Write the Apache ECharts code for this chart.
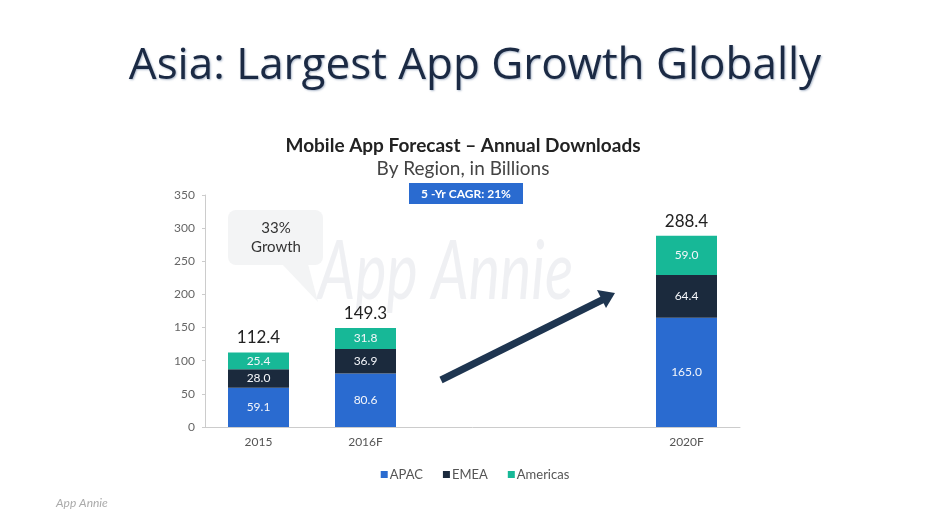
<!DOCTYPE html>
<html><head><meta charset="utf-8">
<script src="https://cdn.jsdelivr.net/npm/echarts@6/dist/echarts.min.js"></script>
<style>html,body{margin:0;padding:0;background:#fff}#c{width:950px;height:530px}</style>
</head><body><div id="c"></div>
<script>
const categories = ['2015', '2016F', '', '', '2020F'];
const apac = [59.1, 80.6, null, null, 165.0];
const emea = [28.0, 36.9, null, null, 64.4];
const americas = [25.4, 31.8, null, null, 59.0];
const totals = [112.4, 149.3, null, null, 288.4];
const yTicks = {min: 0, max: 350, interval: 50};

const chart = echarts.init(document.getElementById('c'));
const inside = {show: true, position: 'inside', color: '#f4f6fa', fontSize: 12, fontFamily: 'Lato', formatter: p => p.value == null ? '' : p.value.toFixed(1)};
chart.setOption({
  animation: false,
  backgroundColor: '#fff',
  title: [
    {text: 'Asia: Largest App Growth Globally', left: 'center', top: 39,
     textStyle: {fontFamily: 'Open Sans', fontSize: 44, fontWeight: 'normal', color: '#1b2a44',
       textShadowColor: 'rgba(120,140,170,0.6)', textShadowBlur: 2, textShadowOffsetX: 1, textShadowOffsetY: 1}},
    {text: 'Mobile App Forecast – Annual Downloads', left: 458, textAlign: 'center', top: 131,
     textStyle: {fontFamily: 'Lato', fontSize: 19, fontWeight: 'bold', color: '#222'}},
    {text: 'By Region, in Billions', left: 458, textAlign: 'center', top: 154,
     textStyle: {fontFamily: 'Lato', fontSize: 19, fontWeight: 'normal', color: '#444'}}
  ],
  legend: {bottom: 44, left: 'center', itemWidth: 7, itemHeight: 7, itemGap: 20,
    icon: 'rect', data: ['APAC', 'EMEA', 'Americas'],
    textStyle: {fontFamily: 'Lato', fontSize: 13, color: '#555', padding: [0, 0, 0, -3]}},
  grid: {left: 205, right: 210, top: 195, bottom: 103, containLabel: false},
  xAxis: {type: 'category', data: categories,
    axisLine: {lineStyle: {color: '#ccc'}}, axisTick: {show: false},
    axisLabel: {fontFamily: 'Lato', fontSize: 12, color: '#555', margin: 9}},
  yAxis: {type: 'value', min: yTicks.min, max: yTicks.max, interval: yTicks.interval,
    axisLine: {show: true, lineStyle: {color: '#ccc'}}, axisTick: {show: true, length: 3, lineStyle: {color: '#ccc'}},
    splitLine: {show: false},
    axisLabel: {fontFamily: 'Lato', fontSize: 12, color: '#666', margin: 10}},
  series: [
    {name: 'APAC', type: 'bar', stack: 's', data: apac, barWidth: 61, itemStyle: {color: '#2a6bd0'}, label: inside, z: 5},
    {name: 'EMEA', type: 'bar', stack: 's', data: emea, itemStyle: {color: '#1b2a3d'}, label: inside, z: 5},
    {name: 'Americas', type: 'bar', stack: 's', data: americas, itemStyle: {color: '#17b897'}, label: inside, z: 5},
    {name: 'Total', type: 'bar', stack: 's', data: totals.map(v => v == null ? null : 0), itemStyle: {color: 'transparent'},
     label: {show: true, position: 'top', distance: 6, fontFamily: 'Lato', fontSize: 17, color: '#222',
       formatter: p => totals[p.dataIndex] == null ? '' : totals[p.dataIndex].toFixed(1)}, z: 5}
  ],
  graphic: [
    {type: 'text', x: 318, y: 232, scaleX: 0.72, z: 0, style: {text: 'App Annie', font: 'italic 400 82px Lato', fill: 'rgba(232,234,238,0.7)'}},
    {type: 'rect', shape: {x: 228, y: 210, width: 95, height: 55, r: 8}, style: {fill: '#f3f4f5'}, z: 1},
    {type: 'polygon', shape: {points: [[282, 264], [308, 264], [318, 302]]}, style: {fill: '#f3f4f5'}, z: 1},
    {type: 'text', x: 276, y: 228, z: 2, style: {text: '33%', font: '15px Lato', fill: '#333', textAlign: 'center', textVerticalAlign: 'middle'}},
    {type: 'text', x: 276, y: 247, z: 2, style: {text: 'Growth', font: '15px Lato', fill: '#333', textAlign: 'center', textVerticalAlign: 'middle'}},
    {type: 'rect', shape: {x: 409, y: 183, width: 114, height: 21}, style: {fill: '#2a6bd0'}, z: 3},
    {type: 'text', x: 466, y: 194, z: 4, style: {text: '5 -Yr CAGR: 21%', font: 'bold 12px Lato', fill: '#fff', textAlign: 'center', textVerticalAlign: 'middle'}},
    {type: 'line', shape: {x1: 441, y1: 380, x2: 604, y2: 299}, style: {stroke: '#1e3550', lineWidth: 7}, z: 6},
    {type: 'polygon', shape: {points: [[615, 293], [597, 290], [606, 308]]}, style: {fill: '#1e3550'}, z: 6},
    {type: 'text', x: 56, y: 497, z: 2, style: {text: 'App Annie', font: 'italic 12px Lato', fill: '#aaa'}}
  ]
});
</script></body></html>
